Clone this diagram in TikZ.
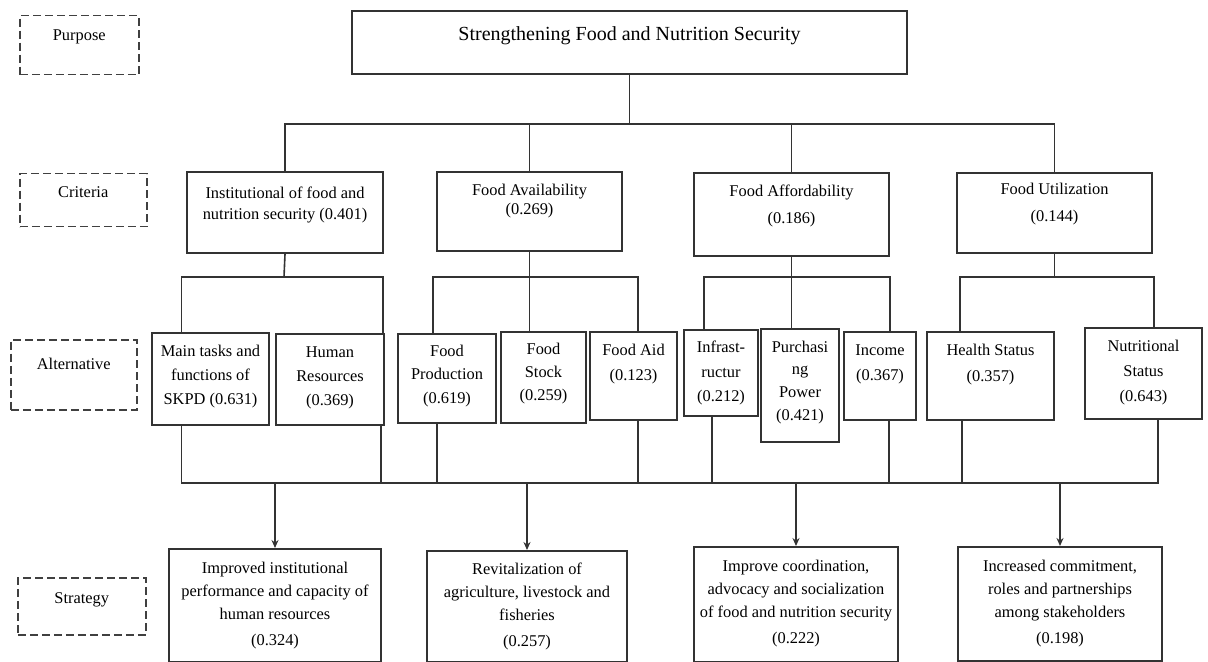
\documentclass[tikz,border=0pt]{standalone}
\usepackage{fontspec}
\setmainfont{Liberation Serif}
\usetikzlibrary{arrows.meta, calc}
\newdimen\pxu \pxu=0.5pt
% width, height, top pad (px), baselineskip (pt), text
\newcommand{\cellbox}[5]{\parbox[t][#2\pxu][t]{#1\pxu}{\fontsize{8.2}{#4}\selectfont\centering\vspace*{#3\pxu}#5\par}}
\tikzset{
  box/.style   = {draw=black!80, line width=1pt, inner sep=0pt, anchor=north west},
  tag/.style   = {draw=black!75, line width=0.75pt, dash pattern=on 4pt off 2pt,
                  inner sep=0pt, anchor=north west},
  link/.style  = {draw=black!80, line width=0.8pt},
  arrow/.style = {link, -{Stealth[length=4pt,width=3.5pt]}},
}

\begin{document}
\begin{tikzpicture}[x=0.5pt, y=-0.5pt]
  \useasboundingbox (0,0) rectangle (1208,662);

  % ---- purpose ----
  \node[tag] (purp) at (19,15)  {\cellbox{119}{59}{14}{10}{Purpose}};
  \node[box] (goal) at (351,10) {\cellbox{555}{63}{16}{12}{\fontsize{10}{12}\selectfont Strengthening Food and Nutrition Security}};

  % ---- criteria ----
  \node[tag] (crit) at (19,173)  {\cellbox{127}{53}{13}{10}{Criteria}};
  \node[box] (c1)   at (186,171) {\cellbox{196}{81}{15}{10.5}{Institutional of food and\\nutrition security (0.401)}};
  \node[box] (c2)   at (436,171) {\cellbox{185}{79}{12}{9.5}{Food Availability\\(0.269)}};
  \node[box] (c3)   at (693,172) {\cellbox{195}{83}{12}{13.5}{Food Affordability\\(0.186)}};
  \node[box] (c4)   at (956,172) {\cellbox{195}{80}{10}{13.5}{Food Utilization\\(0.144)}};

  % ---- alternatives ----
  \node[tag] (alt) at (10,339)   {\cellbox{126}{70}{18}{10}{Alternative}};
  \node[box] (a1)  at (151,332)  {\cellbox{117}{92}{12}{12}{Main tasks and\\functions of\\SKPD (0.631)}};
  \node[box] (a2)  at (275,333)  {\cellbox{108}{91}{13}{12}{Human\\Resources\\(0.369)}};
  \node[box] (a3)  at (397,333)  {\cellbox{98}{89}{11}{11.75}{Food\\Production\\(0.619)}};
  \node[box] (a4)  at (500,331)  {\cellbox{85}{91}{11}{11.5}{Food\\Stock\\(0.259)}};
  \node[box] (a5)  at (589,331)  {\cellbox{87}{88}{12}{12.5}{Food Aid\\(0.123)}};
  \node[box] (a6)  at (683,329)  {\cellbox{74}{86}{11}{12.25}{Infrast-\\ructur\\(0.212)}};
  \node[box] (a7)  at (760,328)  {\cellbox{78}{113}{12}{11.3}{Purchasi\\ng\\Power\\(0.421)}};
  \node[box] (a8)  at (843,331)  {\cellbox{72}{88}{13}{12.5}{Income\\(0.367)}};
  \node[box] (a9)  at (926,331)  {\cellbox{127}{88}{12}{13}{Health Status\\(0.357)}};
  \node[box] (a10) at (1084,327) {\cellbox{117}{91}{12}{12.5}{Nutritional\\Status\\(0.643)}};

  % ---- strategy ----
  \node[tag] (strat) at (17,577) {\cellbox{128}{57}{15}{10}{Strategy}};
  \node[box] (s1) at (168,548) {\cellbox{212}{113}{13}{11.5}{Improved institutional\\performance and capacity of\\human resources\\[1.5pt](0.324)}};
  \node[box] (s2) at (426,550) {\cellbox{200}{111}{12}{11.5}{Revitalization of\\agriculture, livestock and\\fisheries\\[1.5pt](0.257)}};
  \node[box] (s3) at (693,546) {\cellbox{204}{115}{13}{11.5}{Improve coordination,\\advocacy and socialization\\of food and nutrition security\\[1.5pt](0.222)}};
  \node[box] (s4) at (957,546) {\cellbox{204}{114}{13}{11.5}{Increased commitment,\\roles and partnerships\\among stakeholders\\[1.5pt](0.198)}};

  % ---- purpose -> criteria ----
  \coordinate (top) at (628,124);
  \draw[link] (goal.south) -- (goal.south |- top);
  \draw[link] (c1.north) |- (top) -| (c4.north);
  \draw[link] (c2.north) -- (c2.north |- top);
  \draw[link] (c3.north) -- (c3.north |- top);

  % ---- criteria -> alternatives ----
  \coordinate (br1) at (284,277);
  \coordinate (br2) at (c2.south |- br1);
  \coordinate (br3) at (c3.south |- br1);
  \coordinate (br4) at (c4.south |- br1);
  \draw[link] (c1.south) -- (br1);
  \draw[link] ($(a1.north)+(-29,0)$) |- (br1) -| ($(a2.north)+(53,0)$);
  \draw[link] (c2.south) -- (c2.south |- a4.north);
  \draw[link] ($(a3.north)+(-14,0)$) |- (br2) -| ($(a5.north)+(4.5,0)$);
  \draw[link] (c3.south) -- (c3.south |- a7.north);
  \draw[link] ($(a6.north)+(-17,0)$) |- (br3) -| ($(a8.north)+(10,0)$);
  \draw[link] (c4.south) -- (br4);
  \draw[link] ($(a9.north)+(-30.5,0)$) |- (br4) -| ($(a10.north)+(10.5,0)$);

  % ---- alternatives -> strategy ----
  \coordinate (bus) at (668,483);
  \draw[link] ($(a1.south)+(-29,0)$) |- (bus) -| ($(a10.south)+(14.5,0)$);
  \foreach \n/\dx in {a2/51, a3/-10, a5/4.5, a6/-9, a8/9, a9/-28.5}
    \draw[link] ($(\n.south)+(\dx,0)$) |- (bus);
  \foreach \n in {s1, s2, s3, s4}
    \draw[arrow] (\n.north |- bus) -- (\n.north);
\end{tikzpicture}
\end{document}
